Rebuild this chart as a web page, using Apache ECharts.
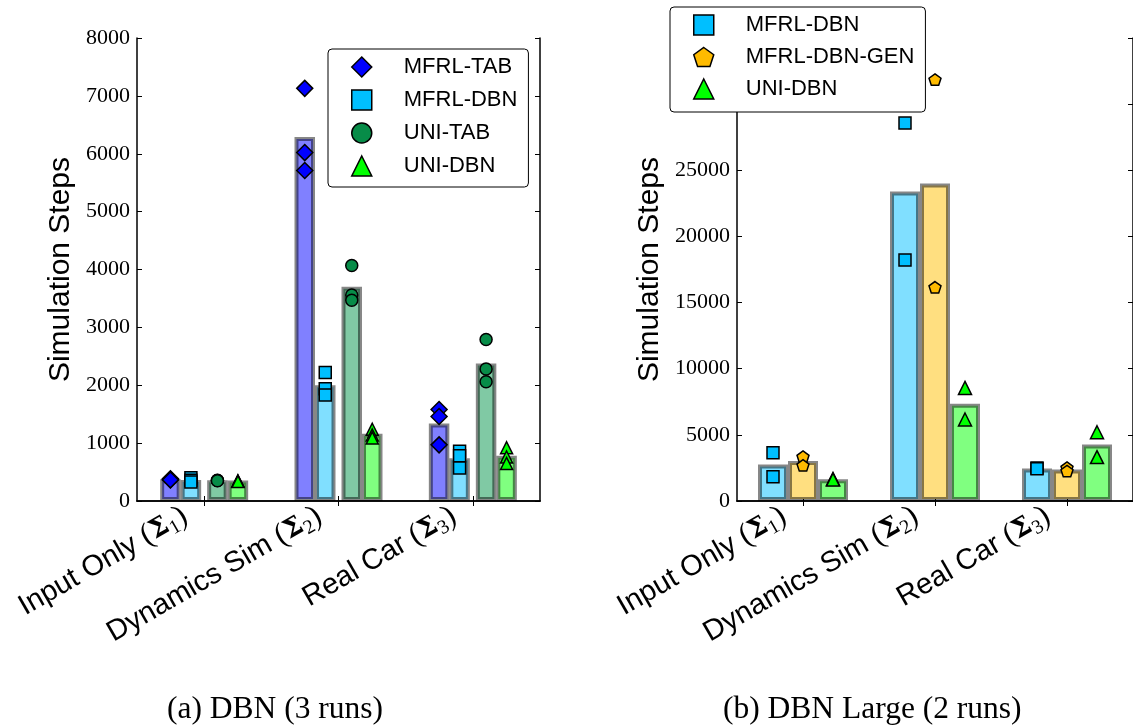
<!DOCTYPE html>
<html>
<head>
<meta charset="utf-8">
<script src="https://cdn.jsdelivr.net/npm/echarts@6/dist/echarts.min.js"></script>
<style>
  html, body { margin: 0; padding: 0; background: #fff; }
  #chart { width: 1133px; height: 725px; }
</style>
</head>
<body>
<div id="chart"></div>
<script>
// Scenario names and their Sigma subscripts
const categories = ['Input Only', 'Dynamics Sim', 'Real Car'];
const sigmaIndex = ['1', '2', '3'];

// (a) DBN, 3 runs per method: individual runs and bar heights
const tabRuns     = [[385, 370, 365], [7130, 6020, 5710], [1580, 1460, 970]];
const tabBars     = [375, 6290, 1340];
const dbnRuns     = [[400, 360, 330], [2220, 1940, 1830], [860, 780, 570]];
const dbnBars     = [365, 2000, 740];
const uniTabRuns  = [[360, 355, 350], [4070, 3560, 3470], [2790, 2280, 2060]];
const uniTabBars  = [358, 3700, 2375];
const uniDbnRuns  = [[350, 340, 335], [1240, 1140, 1090], [920, 760, 650]];
const uniDbnBars  = [355, 1160, 780];

// (b) DBN Large, 2 runs per method
const dbnLargeRuns = [[3650, 1840], [28570, 18220], [2500, 2430]];
const dbnLargeBars = [2750, 23390, 2465];
const genLargeRuns = [[3350, 2690], [31860, 16160], [2520, 2260]];
const genLargeBars = [3020, 24000, 2390];
const uniLargeRuns = [[1660, 1620], [8550, 6160], [5200, 3320]];
const uniLargeBars = [1640, 7360, 4270];

// Axis ranges
const leftMax = 8000, leftStep = 1000;
const rightMax = 35000, rightStep = 5000;

const COLORS = {
  tab: '#0000ff', tabBar: '#8080ff',
  dbn: '#00bfff', dbnBar: '#80dfff',
  uniTab: '#078c48', uniTabBar: '#80c9a4',
  uniDbn: '#00ff00', uniDbnBar: '#80ff80',
  gen: '#ffbb00', genBar: '#ffdf80'
};
const PENTAGON = 'path://M50,0 L97.55,34.55 L79.39,90.45 L20.61,90.45 L2.45,34.55 Z';

const SERIF = 'Liberation Serif';
const SANS = 'Liberation Sans';
const EDGE = 'rgba(0,0,0,0.47)';

// bar geometry (pixels)
const LW = 20.5, LGAP = 6;  // left panel: bar width, middle spacer
const RW = 30;              // right panel bar width

function flatten(runs) {
  const out = [];
  runs.forEach((vals, ci) => vals.forEach(v => out.push([ci, v])));
  return out;
}

function barSeries(name, data, color, xi, width) {
  return {
    type: 'bar', name: name, xAxisIndex: xi, yAxisIndex: xi * 2,
    data: data, barWidth: width, barGap: 0, z: 2,
    itemStyle: { color: color, borderColor: EDGE, borderWidth: 4 },
    emphasis: { disabled: true }
  };
}

function scatterSeries(name, runs, color, symbol, size, offset, xi) {
  return {
    type: 'scatter', name: name, xAxisIndex: xi, yAxisIndex: xi * 2,
    data: flatten(runs), symbol: symbol, symbolSize: size,
    symbolKeepAspect: true, symbolOffset: [offset, 0], z: 5,
    itemStyle: { color: color, borderColor: '#000', borderWidth: 1.5, opacity: 1 },
    emphasis: { disabled: true }
  };
}

function catLabel(value, idx) {
  return '{t|' + categories[idx] + ' }{p|(}{s|\u03A3}{b|' + sigmaIndex[idx] + '}{p|)}';
}

const labelRich = {
  t: { fontFamily: SANS, fontSize: 29, color: '#000' },
  p: { fontFamily: SERIF, fontSize: 31, color: '#000' },
  s: { fontFamily: 'DejaVu Serif', fontWeight: 'bold', fontSize: 26, color: '#000' },
  b: { fontFamily: SERIF, fontSize: 20, color: '#000', verticalAlign: 'bottom', padding: [14, 0, 0, 0] }
};

function bottomXAxis(gi) {
  return {
    type: 'category', gridIndex: gi, data: categories, position: 'bottom',
    boundaryGap: true,
    axisLine: { lineStyle: { color: '#000', width: 1.5 } },
    axisTick: { show: true, inside: true, alignWithLabel: true, length: 5, lineStyle: { color: '#000' } },
    axisLabel: {
      interval: 0, rotate: 30, margin: 2, formatter: catLabel, rich: labelRich,
      padding: [0, 22, 0, 0]
    },
    splitLine: { show: false }
  };
}
function topXAxis(gi) {
  return {
    type: 'category', gridIndex: gi, data: categories, position: 'top',
    boundaryGap: true,
    axisLine: { lineStyle: { color: '#000', width: 1.5 } },
    axisTick: { show: true, inside: true, alignWithLabel: true, length: 5, lineStyle: { color: '#000' } },
    axisLabel: { show: false }, splitLine: { show: false }
  };
}
function leftYAxis(gi, max, step, nameGap) {
  return {
    type: 'value', gridIndex: gi, position: 'left', min: 0, max: max, interval: step,
    name: 'Simulation Steps', nameLocation: 'middle', nameGap: nameGap,
    nameTextStyle: { fontFamily: SANS, fontSize: 30, color: '#000' },
    axisLine: { show: true, lineStyle: { color: '#000', width: 1.5 } },
    axisTick: { show: true, inside: true, length: 5, lineStyle: { color: '#000' } },
    axisLabel: { fontFamily: SERIF, fontSize: 22, color: '#000', margin: 7,
                 formatter: v => String(v) },
    splitLine: { show: false }
  };
}
function rightYAxis(gi, max, step) {
  return {
    type: 'value', gridIndex: gi, position: 'right', min: 0, max: max, interval: step,
    axisLine: { show: true, lineStyle: { color: '#000', width: 1.5 } },
    axisTick: { show: true, inside: true, length: 5, lineStyle: { color: '#000' } },
    axisLabel: { show: false }, splitLine: { show: false }
  };
}

function legendBox(left, top, names, gap, padBottom) {
  return {
    orient: 'vertical', left: left, top: top, data: names,
    backgroundColor: '#fff', borderColor: '#000', borderWidth: 1, borderRadius: 4,
    padding: [7, 11, padBottom, 23], itemGap: gap, itemWidth: 20, itemHeight: 20,
    itemStyle: { borderColor: '#000', borderWidth: 1.5 },
    textStyle: { fontFamily: SANS, fontSize: 22, color: '#000', lineHeight: 22, padding: [0, 0, 0, 27] },
    selectedMode: false, z: 10
  };
}

const chart = echarts.init(document.getElementById('chart'), null, { renderer: 'canvas' });

const option = {
  animation: false,
  backgroundColor: '#fff',
  grid: [
    { left: 137, top: 38, width: 403, height: 463 },
    { left: 737, top: 38, width: 403, height: 463 }
  ],
  xAxis: [bottomXAxis(0), bottomXAxis(1), topXAxis(0), topXAxis(1)],
  yAxis: [
    leftYAxis(0, leftMax, leftStep, 61), rightYAxis(0, leftMax, leftStep),
    leftYAxis(1, rightMax, rightStep, 72), rightYAxis(1, rightMax, rightStep)
  ],
  legend: [
    legendBox(328, 49, ['MFRL-TAB', 'MFRL-DBN', 'UNI-TAB', 'UNI-DBN'], 11, 10),
    legendBox(670, 7, ['MFRL-DBN', 'MFRL-DBN-GEN', 'UNI-DBN'], 10, 12)
  ],
  series: [
    // (a) bars
    barSeries('MFRL-TAB mean', tabBars, COLORS.tabBar, 0, LW),
    barSeries('MFRL-DBN mean', dbnBars, COLORS.dbnBar, 0, LW),
    { type: 'bar', name: 'spacer', xAxisIndex: 0, yAxisIndex: 0, data: [null, null, null],
      barWidth: LGAP, barGap: 0, itemStyle: { color: 'transparent' }, silent: true },
    barSeries('UNI-TAB mean', uniTabBars, COLORS.uniTabBar, 0, LW),
    barSeries('UNI-DBN mean', uniDbnBars, COLORS.uniDbnBar, 0, LW),
    // (a) runs
    scatterSeries('MFRL-TAB', tabRuns, COLORS.tab, 'diamond', [16, 16], -(LGAP / 2 + LW * 1.5), 0),
    scatterSeries('MFRL-DBN', dbnRuns, COLORS.dbn, 'rect', [12, 12], -(LGAP / 2 + LW * 0.5), 0),
    scatterSeries('UNI-TAB', uniTabRuns, COLORS.uniTab, 'circle', 12, LGAP / 2 + LW * 0.5, 0),
    scatterSeries('UNI-DBN', uniDbnRuns, COLORS.uniDbn, 'triangle', [12, 12], LGAP / 2 + LW * 1.5, 0),
    // (b) bars
    barSeries('MFRL-DBN mean L', dbnLargeBars, COLORS.dbnBar, 1, RW),
    barSeries('MFRL-DBN-GEN mean L', genLargeBars, COLORS.genBar, 1, RW),
    barSeries('UNI-DBN mean L', uniLargeBars, COLORS.uniDbnBar, 1, RW),
    // (b) runs
    scatterSeries('MFRL-DBN', dbnLargeRuns, COLORS.dbn, 'rect', [12, 12], -RW, 1),
    scatterSeries('MFRL-DBN-GEN', genLargeRuns, COLORS.gen, PENTAGON, [12, 12], 0, 1),
    scatterSeries('UNI-DBN', uniLargeRuns, COLORS.uniDbn, 'triangle', [13, 13], RW, 1)
  ],
  graphic: [
    { type: 'text', left: 167, top: 694,
      style: { text: '(a) DBN (3 runs)', font: '31.5px "Liberation Serif"', fill: '#000' } },
    { type: 'text', left: 723, top: 694,
      style: { text: '(b) DBN Large (2 runs)', font: '31.5px "Liberation Serif"', fill: '#000' } }
  ]
};

chart.setOption(option);
</script>
</body>
</html>
